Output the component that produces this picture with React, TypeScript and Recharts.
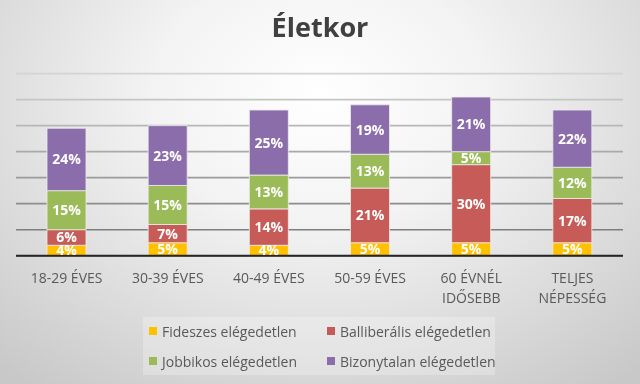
import React from 'react';
import { BarChart, Bar, XAxis, YAxis, CartesianGrid, LabelList } from 'recharts';

const categories = ['18-29 ÉVES', '30-39 ÉVES', '40-49 ÉVES', '50-59 ÉVES', '60 ÉVNÉL\nIDŐSEBB', 'TELJES\nNÉPESSÉG'];
const fideszes = [4, 5, 4, 5, 5, 5];
const balliberalis = [6, 7, 14, 21, 30, 17];
const jobbikos = [15, 15, 13, 13, 5, 12];
const bizonytalan = [24, 23, 25, 19, 21, 22];
const yTicks = [0, 10, 20, 30, 40, 50, 60, 70];

const series = [
  { key: 'fid', name: 'Fideszes elégedetlen', color: '#FFC000', values: fideszes },
  { key: 'bal', name: 'Balliberális elégedetlen', color: '#C65B57', values: balliberalis },
  { key: 'job', name: 'Jobbikos elégedetlen', color: '#9BBB59', values: jobbikos },
  { key: 'biz', name: 'Bizonytalan elégedetlen', color: '#8A6DAA', values: bizonytalan },
];

const data = categories.map((c, i) => {
  const row: any = { name: c };
  series.forEach(s => { row[s.key] = s.values[i]; });
  return row;
});

const FONT = '"Open Sans", "Noto Sans", sans-serif';

// gridlines fade out towards the top
const GridLine = (props: any) => {
  const { x1, x2, y1, y2 } = props;
  const t = Math.min(1, Math.max(0, (y1 - 73) / (256 - 73)));
  const g = Math.round(212 - t * 100);
  return <line x1={x1} x2={x2} y1={y1} y2={y2} stroke={`rgb(${g},${g},${g})`} strokeWidth={1.6} />;
};

const CatTick = (props: any) => {
  const { x, y, payload } = props;
  const lines = String(payload.value).split('\n');
  return (
    <text x={x} y={y + 19} textAnchor="middle" fill="#595959" fontSize={14} fontFamily={FONT}>
      {lines.map((l, i) => (
        <tspan key={i} x={x} dy={i === 0 ? 0 : 20}>{l}</tspan>
      ))}
    </text>
  );
};

const LegendBox = () => (
  <div style={{
    position: 'absolute', left: 143, top: 317,
    width: 352, height: 58, background: 'rgba(255,255,255,0.25)', fontFamily: FONT,
    fontSize: 14, color: '#595959', display: 'grid', gridTemplateColumns: '178px 174px',
    alignContent: 'center', rowGap: 10, boxSizing: 'border-box', paddingLeft: 6,
  }}>
    {series.map(s => (
      <div key={s.key} style={{ display: 'flex', alignItems: 'center', height: 20 }}>
        <span style={{ width: 8, height: 8, background: s.color, marginRight: 5, display: 'inline-block' }} />
        <span>{s.name}</span>
      </div>
    ))}
  </div>
);

export default function App() {
  return (
    <div style={{
      position: 'fixed', left: 0, top: 0, width: 640, height: 384, overflow: 'hidden',
      background: 'radial-gradient(ellipse 75% 95% at 50% 25%, #ffffff 0%, #f3f3f3 35%, #dcdcdc 70%, #c8c8c8 100%)',
    }}>
      <div style={{
        position: 'absolute', left: 0, width: 640, top: 8, textAlign: 'center',
        fontFamily: FONT, fontWeight: 700, fontSize: 27, color: '#404040',
      }}>Életkor</div>
      <BarChart width={640} height={384} data={data}
        margin={{ top: 73.6, right: 17, bottom: 98.3, left: 16 }}>
        <CartesianGrid horizontal={(p: any) => <GridLine key={p.key} {...p} />} vertical={false} />
        <YAxis hide domain={[0, 70]} ticks={yTicks} />
        <XAxis dataKey="name" interval={0} tickLine={false} axisLine={{ stroke: '#262626', strokeWidth: 2 }}
          tick={<CatTick />} height={30} />
        {series.map(s => (
          <Bar key={s.key} dataKey={s.key} name={s.name} stackId="a" fill={s.color} barSize={39}
            stroke="#eeeeee" strokeWidth={0.8} isAnimationActive={false}>
            <LabelList dataKey={s.key} position="center" formatter={(v: any) => `${v}%`}
              fill="#ffffff" fontSize={14} fontWeight={700} fontFamily={FONT} />
          </Bar>
        ))}
      </BarChart>
      <LegendBox />
    </div>
  );
}
